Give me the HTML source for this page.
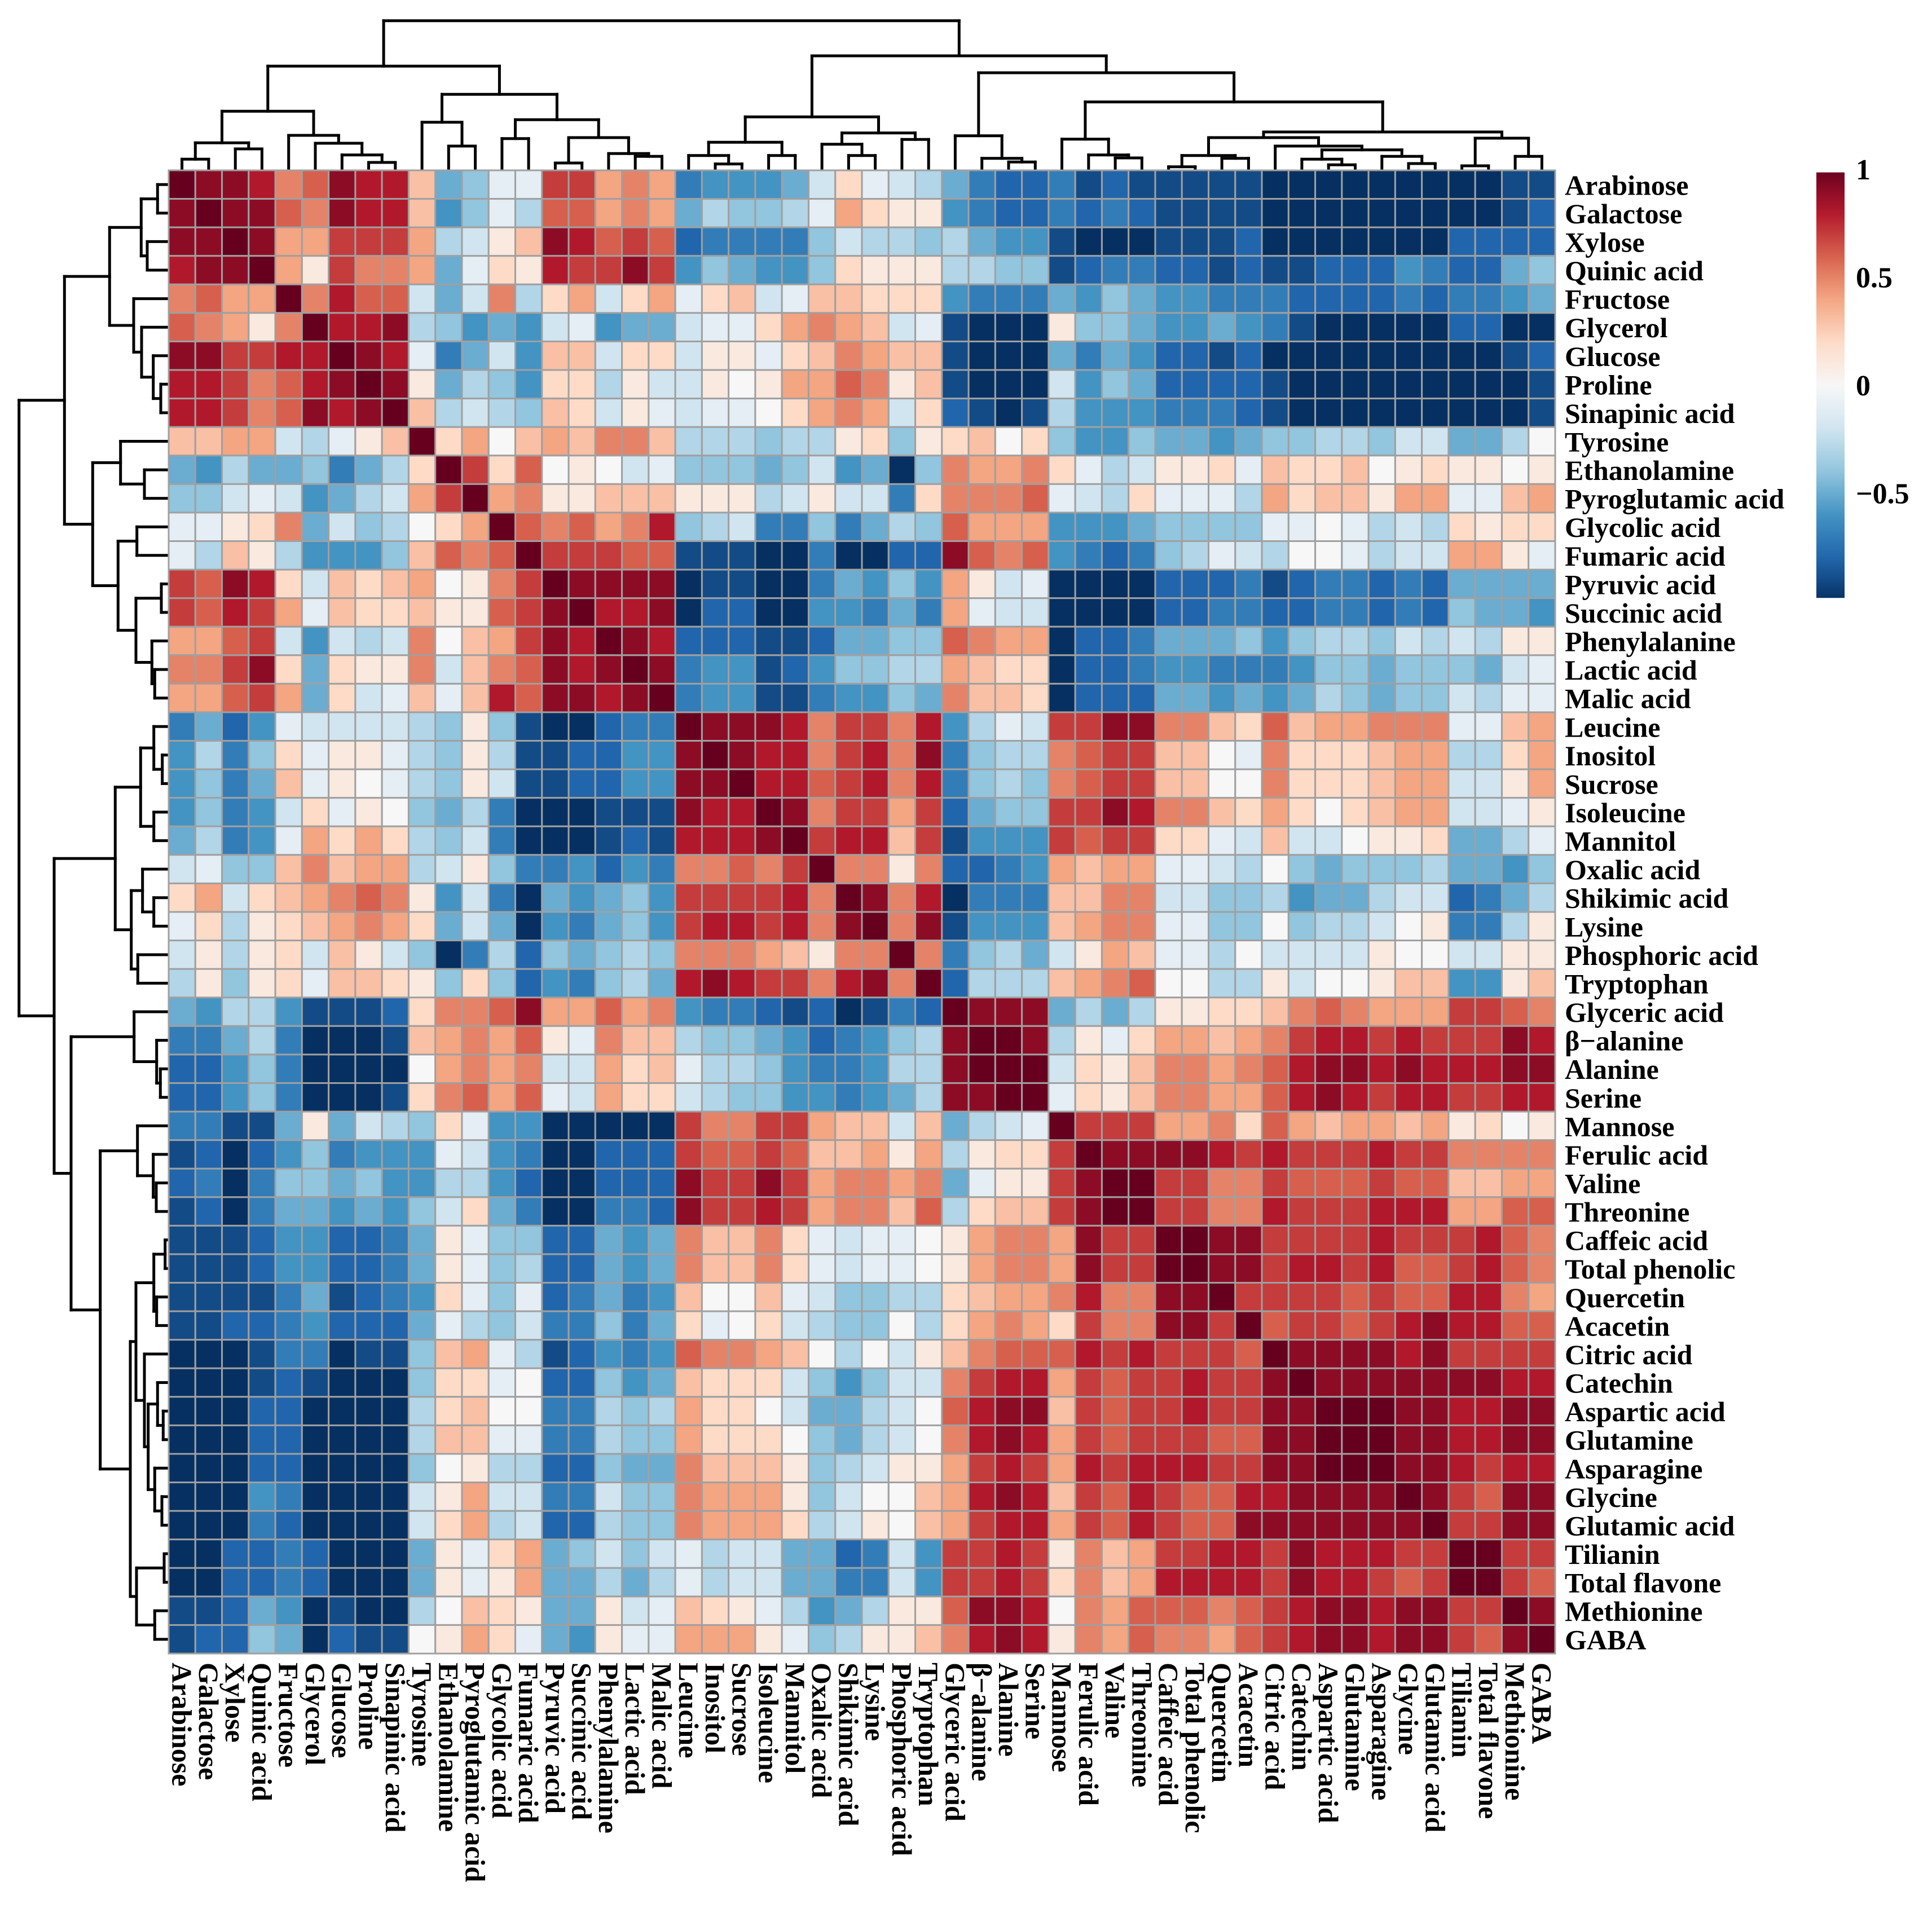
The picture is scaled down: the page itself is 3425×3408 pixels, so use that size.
<!DOCTYPE html>
<html><head><meta charset="utf-8">
<style>
html,body{margin:0;padding:0;background:#fff;}
svg{display:block;}
svg text{font-family:"Liberation Serif","Times New Roman",serif !important;font-weight:bold;fill:#000;}
</style></head>
<body>
<svg id="chart" width="3425" height="3408" viewBox="0 0 3425 3408" xmlns="http://www.w3.org/2000/svg" font-family="Liberation Serif, serif">
<g id="dendro-top"></g>
<g id="dendro-left"></g>
<g id="cells"></g>
<g id="rowlabels"></g>
<g id="collabels"></g>
<g id="colorbar"></g>
</svg>
<script>
const labels = ["Arabinose","Galactose","Xylose","Quinic acid","Fructose","Glycerol","Glucose","Proline","Sinapinic acid","Tyrosine","Ethanolamine","Pyroglutamic acid","Glycolic acid","Fumaric acid","Pyruvic acid","Succinic acid","Phenylalanine","Lactic acid","Malic acid","Leucine","Inositol","Sucrose","Isoleucine","Mannitol","Oxalic acid","Shikimic acid","Lysine","Phosphoric acid","Tryptophan","Glyceric acid","\u03b2\u2212alanine","Alanine","Serine","Mannose","Ferulic acid","Valine","Threonine","Caffeic acid","Total phenolic","Quercetin","Acacetin","Citric acid","Catechin","Aspartic acid","Glutamine","Asparagine","Glycine","Glutamic acid","Tilianin","Total flavone","Methionine","GABA"];

// Lower triangle of correlation matrix; letter a=-1.0 ... k=0 ... u=+1.0 (0.1 steps)
const corrLower = [
"u",
"tu",
"ttu",
"sttu",
"pqoou",
"qpolpu",
"ttrrssu",
"ssrpqstu",
"ssrpqtstu",
"nnooihjlnu",
"fehffgdfhmu",
"ggijiefhioru",
"jjlmpfighkmou",
"jhnlheeegnqpqu",
"rqtsminmnoklpru",
"rqsrojnmmnllqrtu",
"ooqrieihipknortsu",
"pprtmfmllpinpqtstu",
"ooqrofmijnjnsqttstu",
"dfcejiiiihglgbaacddu",
"ehdgmjlljhglhbbcceetu",
"egdfnjlkjhglibbcceettu",
"egdeimjlkgfhdaaabbbtssu",
"fhdejomomhgidaaabcbssstu",
"ijggnpnoohilgddecedppqpru",
"moimnopqpleidafefgerrrrspu",
"jmhlmnopomfifaedfgerssrsptu",
"ilhlminligadhcgfghgppponlppu",
"hlglmjnnmlgmgcedghfstsrrpstpu",
"fehhebbbcmppqtooqopeddcbcabdcu",
"ddfhdaaabnopoqljpnnhggfecdeghtu",
"ccegdaaaakopopiiomnjhhgeddehhtuu",
"ccegdaaabmpqoqjiommihggeedefhttuu",
"ddbbflfihgmjeeaaaaarpprronninfhiju",
"bcacegdeeejiedaacccrqqrqnnolohlmmru",
"cdadggfgeehhecaaccctrrtroppopfjllrtu",
"bcadffefegimfdaaddctrrsroppnqhmnnrtuu",
"bbbceeccdfljggccfefpnnpmjijjkloppotrru",
"bbbceeccdfljghccfefpnnpmjijjkloppotrruu",
"bbbbdfbcdemjgjcdfdenkknjigghhmnoopsppttu",
"bbccdecccfjhgiddgdfmjkmihggkhmopomrppttru",
"aaabddabbgnojhbcedeqpponkhkilnpqqqsrsrrrqu",
"aaabcbaaagmmjkccgefnmmmigegiiprssorqrrsrrtu",
"aaaccaaaahmnkkddhghommkiffhikqsttnrqrrsrrttu",
"aaaccaaaahnnjjddhggommmkgfhikpstsorqrrrqqttuu",
"aaaccaaaagklhhccgffpnnnlghillorsrosrsssrrttuuu",
"aaaedaaaailoiiddiggpooolgikknostsnrqsrqqssttttu",
"aaadcaaaaimohicchggpooomhilknorssorqsrqqtttttttu",
"aaccdcaaafljmofgigijhiiffcdierrsrlpnorrssrtsssrru",
"aaccdcaaafljloffhfhjhiiffddierrsrmpnossssrtssrqruu",
"bbcfeabaahknmlfflijnmljhefhllqttskpoqqqpqrsttsttrru",
"bccgfacbbklomjfeljjoooljghllnpstslpoqppoqrsttsttrqtu"
];

const cbTicks = [1, 0.5, 0, -0.5];
const cbTickLabels = ["1", "0.5", "0", "\u22120.5"];

// Dendrogram merge tree: [left, right, height(px)]
const dendroLeftBranch =
    [[[[0,1,17.7],[2,3,36],46.7],[4,[5,[6,[7,8,12],25.3],46],60],102.7],
     [[9,[10,11,41],83.3],[[12,13,54.3],[[14,15,11],[16,[17,18,22.7],27.7],56],87.7],132.7],182.7];
const dendroRightBranch = [
  [[[19,[20,21,9.3],24.3],[22,23,24.3],47.7],[[24,[25,26,24.3],44.3],[27,28,52.7],64.3],92.7],
  [[29,[30,[31,32,12.7],19.3],59.3],
   [[33,[34,[35,36,20],25.3],53.3],
    [[[[37,38,4.3],[39,40,19.3],24.3],[41,[[42,[43,44,7.7],17.7],[45,[46,47,10],22.7],34.3],41],56],
     [[48,49,6],[50,51,22.7],55],66],119.3],171],201];
const dendroRoot = [dendroLeftBranch, dendroRightBranch, 263.3];

const N = labels.length;
const X0 = 299, Y0 = 302, X1 = 2757, Y1 = 2932;
const CW = (X1 - X0) / N, CH = (Y1 - Y0) / N;
const NS = "http://www.w3.org/2000/svg";
const FONT = "Liberation Serif, Times New Roman, serif";

function val(ch){ return (ch.charCodeAt(0) - 107) / 10; }
const M = [];
for (let i = 0; i < N; i++) { M.push(new Array(N).fill(0)); }
for (let i = 0; i < N; i++) {
  const s = corrLower[i] || "";
  for (let j = 0; j <= i; j++) {
    const v = j < s.length ? val(s[j]) : (i === j ? 1 : 0);
    M[i][j] = v; M[j][i] = v;
  }
}

const stops = ["#053061","#2166ac","#4393c3","#92c5de","#d1e5f0","#f7f7f7","#fddbc7","#f4a582","#d6604d","#b2182b","#67001f"];
function hex(h){ return [parseInt(h.substr(1,2),16),parseInt(h.substr(3,2),16),parseInt(h.substr(5,2),16)]; }
function color(v){
  v = Math.max(-1, Math.min(1, v));
  const t = (v + 1) / 2 * 10;
  const i = Math.min(9, Math.floor(t));
  const f = t - i;
  const a = hex(stops[i]), b = hex(stops[i+1]);
  return "rgb(" + a.map((c,k)=>Math.round(c + (b[k]-c)*f)).join(",") + ")";
}
const xScale = j => X0 + j * CW;
const yScale = i => Y0 + i * CH;

const cells = document.getElementById("cells");
for (let i = 0; i < N; i++) {
  for (let j = 0; j < N; j++) {
    const r = document.createElementNS(NS, "rect");
    r.setAttribute("x", xScale(j).toFixed(2));
    r.setAttribute("y", yScale(i).toFixed(2));
    r.setAttribute("width", CW.toFixed(2));
    r.setAttribute("height", CH.toFixed(2));
    r.setAttribute("fill", color(M[i][j]));
    r.setAttribute("stroke", "#a0a0a0");
    r.setAttribute("stroke-width", "3");
    
    
    cells.appendChild(r);
  }
}

const rl = document.getElementById("rowlabels");
const cl = document.getElementById("collabels");
for (let i = 0; i < N; i++) {
  const t = document.createElementNS(NS, "text");
  t.setAttribute("x", 2774);
  t.setAttribute("y", (yScale(i) + CH / 2 + 18).toFixed(1));
  t.setAttribute("font-size", "50");
  t.setAttribute("font-family", FONT);
  t.setAttribute("font-weight", "bold");
  t.textContent = labels[i];
  
  
  rl.appendChild(t);
  const c = document.createElementNS(NS, "text");
  const cx = xScale(i) + CW / 2;
  c.setAttribute("transform", "translate(" + (cx - 17).toFixed(1) + ",2948) rotate(90)");
  c.setAttribute("font-size", "50");
  c.setAttribute("font-family", FONT);
  c.setAttribute("font-weight", "bold");
  c.textContent = labels[i];
  
  
  cl.appendChild(c);
}

// dendrograms
function drawDendro(g, orient) {
  function line(x1,y1,x2,y2){
    const l = document.createElementNS(NS, "line");
    l.setAttribute("x1", x1.toFixed(1)); l.setAttribute("y1", y1.toFixed(1));
    l.setAttribute("x2", x2.toFixed(1)); l.setAttribute("y2", y2.toFixed(1));
    l.setAttribute("stroke", "#000"); l.setAttribute("stroke-width", "5");
    l.setAttribute("stroke-linecap", "square");
    
    
    g.appendChild(l);
  }
  function map(pos, h){
    if (orient === "top") return [X0 + (pos + 0.5) * CW, Y0 - 2 - h];
    return [X0 - 2 - h, Y0 + (pos + 0.5) * CH];
  }
  function rec(node){
    if (typeof node === "number") return {pos: node, h: 0};
    const a = rec(node[0]), b = rec(node[1]), h = node[2];
    const pa = map(a.pos, a.h), pa2 = map(a.pos, h);
    const pb = map(b.pos, b.h), pb2 = map(b.pos, h);
    line(pa[0], pa[1], pa2[0], pa2[1]);
    line(pb[0], pb[1], pb2[0], pb2[1]);
    line(pa2[0], pa2[1], pb2[0], pb2[1]);
    return {pos: (a.pos + b.pos) / 2, h: h};
  }
  rec(dendroRoot);
}
drawDendro(document.getElementById("dendro-top"), "top");
drawDendro(document.getElementById("dendro-left"), "left");

// colorbar
const cb = document.getElementById("colorbar");
const cbY = v => 683 - v * 383;
const defs = document.createElementNS(NS, "defs");
const lg = document.createElementNS(NS, "linearGradient");
lg.setAttribute("id", "cbgrad"); lg.setAttribute("x1","0"); lg.setAttribute("y1","0"); lg.setAttribute("x2","0"); lg.setAttribute("y2","1");
for (let k = 0; k <= 40; k++) {
  const v = 0.985 - k * (1.97 / 40);
  const s = document.createElementNS(NS, "stop");
  s.setAttribute("offset", (k / 40).toFixed(3));
  s.setAttribute("stop-color", color(v));
  lg.appendChild(s);
}
defs.appendChild(lg); cb.appendChild(defs);
const bar = document.createElementNS(NS, "rect");
bar.setAttribute("x", 3220); bar.setAttribute("y", cbY(0.985).toFixed(1));
bar.setAttribute("width", 50); bar.setAttribute("height", (cbY(-0.985) - cbY(0.985)).toFixed(1));
bar.setAttribute("fill", "url(#cbgrad)");


cb.appendChild(bar);
for (let k = 0; k < cbTicks.length; k++) {
  const t = document.createElementNS(NS, "text");
  t.setAttribute("x", 3290);
  t.setAttribute("y", (cbY(cbTicks[k]) + 18).toFixed(1));
  t.setAttribute("font-size", "52");
  t.setAttribute("font-family", FONT);
  t.setAttribute("font-weight", "bold");
  t.textContent = cbTickLabels[k];
  
  
  cb.appendChild(t);
}
</script>
</body></html>
